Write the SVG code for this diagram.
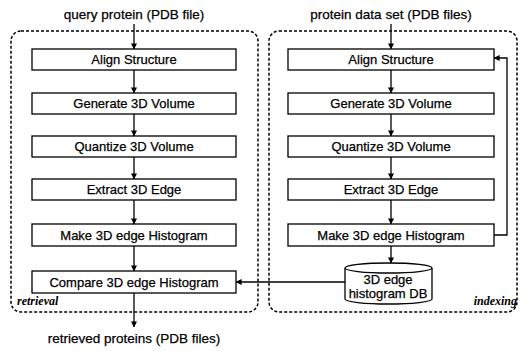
<svg xmlns="http://www.w3.org/2000/svg" width="531" height="351" viewBox="0 0 531 351">
<defs>
<marker id="ah" viewBox="0 0 8 8" refX="7.5" refY="4" markerWidth="6" markerHeight="6" orient="auto" markerUnits="userSpaceOnUse">
<path d="M0,0 L8,4 L0,8 Z" fill="#000"/>
</marker>
<style>
.frame{fill:none;stroke:#000;stroke-width:1.5;stroke-dasharray:3 2}
.box{fill:#fff;stroke:#000;stroke-width:1.3}
.t{font-family:"Liberation Sans",Arial,sans-serif;font-size:13px;text-anchor:middle;fill:#000;stroke:#000;stroke-width:0.25}
.lab{font-family:"Liberation Serif","Times New Roman",serif;font-size:12px;font-style:italic;font-weight:bold;fill:#000}
.c{fill:none;stroke:#000;stroke-width:1.3;marker-end:url(#ah)}
</style>
</defs>
<rect width="531" height="351" fill="#fff"/>
<g id="retrieval">
<rect class="frame" x="11" y="31" width="247" height="281" rx="10"/>
<text class="lab" x="17" y="305">retrieval</text>
</g>
<g id="indexing">
<rect class="frame" x="269" y="31" width="248" height="281" rx="10"/>
<text class="lab" x="517" y="305" text-anchor="end">indexing</text>
</g>
<g id="in-label"><text class="t" x="134" y="19" style="font-size:13.5px">query protein (PDB file)</text></g>
<g id="set-label"><text class="t" x="391" y="19" style="font-size:13.5px">protein data set (PDB files)</text></g>
<g id="out-label"><text class="t" x="134" y="343" style="font-size:13.5px">retrieved proteins (PDB files)</text></g>
<g id="L1"><rect class="box" x="32" y="49" width="204" height="21"/><text class="t" x="134" y="64">Align Structure</text></g>
<g id="L2"><rect class="box" x="32" y="93" width="204" height="21"/><text class="t" x="134" y="108">Generate 3D Volume</text></g>
<g id="L3"><rect class="box" x="32" y="136" width="204" height="21"/><text class="t" x="134" y="151">Quantize 3D Volume</text></g>
<g id="L4"><rect class="box" x="32" y="179" width="204" height="21"/><text class="t" x="134" y="194">Extract 3D Edge</text></g>
<g id="L5"><rect class="box" x="32" y="224" width="204" height="22"/><text class="t" x="134" y="239.5">Make 3D edge Histogram</text></g>
<g id="L6"><rect class="box" x="32" y="271" width="204" height="22"/><text class="t" x="134" y="286.5">Compare 3D edge Histogram</text></g>
<g id="R1"><rect class="box" x="288" y="49" width="206" height="21"/><text class="t" x="391" y="64">Align Structure</text></g>
<g id="R2"><rect class="box" x="288" y="93" width="206" height="21"/><text class="t" x="391" y="108">Generate 3D Volume</text></g>
<g id="R3"><rect class="box" x="288" y="136" width="206" height="21"/><text class="t" x="391" y="151">Quantize 3D Volume</text></g>
<g id="R4"><rect class="box" x="288" y="179" width="206" height="21"/><text class="t" x="391" y="194">Extract 3D Edge</text></g>
<g id="R5"><rect class="box" x="288" y="224" width="206" height="22"/><text class="t" x="391" y="239.5">Make 3D edge Histogram</text></g>
<g id="DB">
<path class="box" d="M345,268 A43.5,5 0 0 1 432,268 L432,299 A43.5,5 0 0 1 345,299 Z"/>
<path d="M345,268 A43.5,5 0 0 0 432,268" fill="none" stroke="#000" stroke-width="1.3"/>
<text class="t" x="388" y="284">3D edge</text>
<text class="t" x="388" y="298">histogram DB</text>
</g>
<g id="connectors">
<path class="c" d="M134,24 L134,49"/>
<path class="c" d="M134,70 L134,93"/>
<path class="c" d="M134,114 L134,136"/>
<path class="c" d="M134,157 L134,179"/>
<path class="c" d="M134,200 L134,224"/>
<path class="c" d="M134,246 L134,271"/>
<path class="c" d="M134,293 L134,327"/>
<path class="c" d="M391,24 L391,49"/>
<path class="c" d="M391,70 L391,93"/>
<path class="c" d="M391,114 L391,136"/>
<path class="c" d="M391,157 L391,179"/>
<path class="c" d="M391,200 L391,224"/>
<path class="c" d="M391,246 L391,263"/>
<path class="c" d="M494,235 L507,235 L507,58 L494,58"/>
<path class="c" d="M345,282 L236,282"/>
</g>
</svg>
